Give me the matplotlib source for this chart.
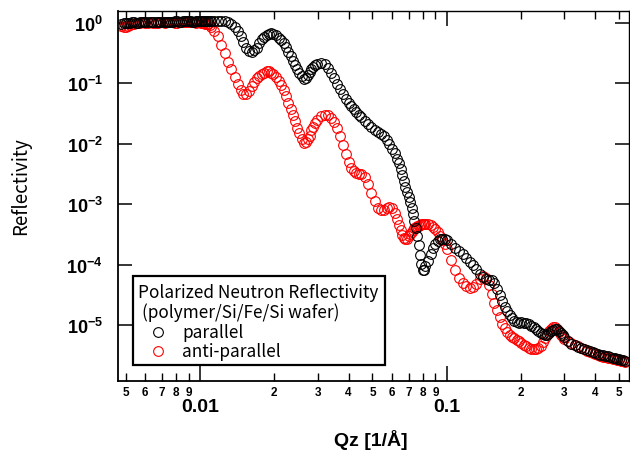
import numpy as np
import matplotlib
matplotlib.use("Agg")
import matplotlib.pyplot as plt
from matplotlib.ticker import FixedLocator, FuncFormatter, NullLocator
from matplotlib.patches import Rectangle

# Qz grid [1/A] shared by both spin states
qz = [
    0.0048, 0.0050, 0.0052, 0.0054, 0.0056, 0.0058, 0.0060, 0.0063, 0.0066, 0.0069,
    0.0072, 0.0075, 0.0078, 0.0081, 0.0084, 0.0087, 0.0090, 0.0093, 0.0096, 0.0099,
    0.0102, 0.0105, 0.0108, 0.0111, 0.0114,
    0.0118, 0.0122, 0.0126, 0.0130, 0.0134, 0.0138, 0.0142, 0.0146, 0.0150, 0.0154,
    0.0158, 0.0162, 0.0166, 0.0170, 0.0174, 0.0178, 0.0182, 0.0186, 0.0190, 0.0194, 0.0198,
    0.0203, 0.0208, 0.0213, 0.0218, 0.0223, 0.0228, 0.0233, 0.0238, 0.0243, 0.0248,
    0.0253, 0.0258, 0.0263, 0.0268, 0.0273, 0.0278, 0.0283, 0.0288, 0.0293, 0.0298,
    0.031, 0.032, 0.033, 0.034, 0.035, 0.036, 0.037, 0.038, 0.039, 0.040,
    0.041, 0.042, 0.043, 0.044, 0.045, 0.0465, 0.048, 0.0495, 0.051, 0.0525,
    0.054, 0.0555, 0.057, 0.0585, 0.060, 0.0615, 0.063,
    0.064, 0.065, 0.066, 0.067, 0.068, 0.069, 0.070, 0.071, 0.072, 0.073,
    0.074, 0.075, 0.076, 0.077, 0.078, 0.079, 0.080, 0.081, 0.082,
    0.084, 0.086, 0.088, 0.090, 0.092, 0.094, 0.096, 0.098, 0.100,
    0.104, 0.108, 0.112, 0.116, 0.120, 0.124, 0.128, 0.132, 0.136, 0.140,
    0.144, 0.148, 0.152, 0.156, 0.160, 0.164, 0.168, 0.172, 0.176, 0.180,
    0.184, 0.188, 0.192, 0.196, 0.200,
    0.205, 0.210, 0.215, 0.220, 0.225, 0.230, 0.235, 0.240, 0.245, 0.250,
    0.255, 0.260, 0.265, 0.270, 0.275, 0.280, 0.285, 0.290, 0.295, 0.300,
    0.31, 0.32, 0.33, 0.34, 0.35, 0.36, 0.37, 0.38, 0.39, 0.40,
    0.41, 0.42, 0.43, 0.44, 0.45, 0.46, 0.47, 0.48, 0.49, 0.50,
    0.51, 0.52, 0.53,
]

r_parallel = [
    0.98, 1.00, 1.01, 1.02, 1.00, 1.03, 1.02, 1.03, 1.04, 1.03,
    1.05, 1.04, 1.05, 1.06, 1.05, 1.06, 1.06, 1.05, 1.06, 1.07,
    1.06, 1.06, 1.07, 1.06, 1.06,
    1.07, 1.07, 1.06, 1.02, 0.95, 0.87, 0.75, 0.605, 0.476, 0.381,
    0.344, 0.331, 0.353, 0.392, 0.458, 0.537, 0.586, 0.638, 0.668, 0.678, 0.663,
    0.623, 0.575, 0.523, 0.458, 0.393, 0.336, 0.282, 0.237, 0.200, 0.170,
    0.150, 0.132, 0.120, 0.125, 0.140, 0.157, 0.173, 0.188, 0.203, 0.212,
    0.218, 0.210, 0.183, 0.151, 0.121, 0.0989, 0.0808, 0.0668, 0.0560, 0.0477,
    0.0415, 0.0370, 0.0330, 0.0300, 0.0278, 0.0241, 0.0212, 0.0190, 0.0171, 0.0159,
    0.0147, 0.0132, 0.0116, 0.00993, 0.00820, 0.00705, 0.00550,
    0.00481, 0.00383, 0.00304, 0.00242, 0.00193, 0.00159, 0.00132, 0.00109, 8.65e-4, 6.89e-4,
    5.27e-4, 4.04e-4, 2.98e-4, 2.11e-4, 1.44e-4, 1.02e-4, 8.14e-5, 8.14e-5, 9.48e-5,
    1.15e-4, 1.50e-4, 1.88e-4, 2.19e-4, 2.46e-4, 2.65e-4, 2.70e-4, 2.65e-4, 2.51e-4,
    2.19e-4, 1.88e-4, 1.68e-4, 1.47e-4, 1.29e-4, 1.12e-4, 9.85e-5, 8.29e-5, 6.99e-5, 6.23e-5,
    5.78e-5, 5.56e-5, 5.56e-5, 4.96e-5, 3.94e-5, 3.14e-5, 2.50e-5, 2.02e-5, 1.71e-5, 1.47e-5,
    1.28e-5, 1.16e-5, 1.10e-5, 1.08e-5, 1.10e-5,
    1.08e-5, 1.08e-5, 1.02e-5, 9.62e-6, 9.10e-6, 8.42e-6, 7.80e-6, 7.37e-6, 6.97e-6, 6.70e-6,
    6.83e-6, 7.23e-6, 7.80e-6, 8.26e-6, 8.59e-6, 8.42e-6, 7.96e-6, 7.23e-6, 6.70e-6, 6.21e-6,
    5.43e-6, 4.84e-6, 4.58e-6, 4.33e-6, 4.08e-6, 3.93e-6, 3.78e-6, 3.64e-6, 3.51e-6, 3.38e-6,
    3.25e-6, 3.19e-6, 3.13e-6, 3.07e-6, 3.01e-6, 2.95e-6, 2.84e-6, 2.79e-6, 2.74e-6, 2.68e-6,
    2.63e-6, 2.58e-6, 2.54e-6,
]

r_anti = [
    0.88, 0.85, 0.92, 0.98, 1.00, 1.02, 1.01, 1.02, 1.00, 1.02,
    1.01, 1.03, 1.02, 1.01, 1.03, 1.02, 1.02, 1.03, 1.01, 1.02,
    1.01, 0.98, 0.95, 0.86, 0.74,
    0.614, 0.439, 0.321, 0.230, 0.171, 0.130, 0.0989, 0.0783, 0.0670, 0.0665,
    0.0748, 0.0902, 0.107, 0.121, 0.132, 0.142, 0.151, 0.160, 0.159, 0.151, 0.142,
    0.128, 0.110, 0.0941, 0.0763, 0.0619, 0.0477, 0.0377, 0.0300, 0.0238, 0.0186,
    0.0151, 0.0120, 0.0103, 0.0105, 0.0120, 0.0137, 0.0166, 0.0190, 0.0217, 0.0243,
    0.0289, 0.0300, 0.0294, 0.0267, 0.0230, 0.0186, 0.0137, 0.00955, 0.00678, 0.00500,
    0.00397, 0.00350, 0.00329, 0.00321, 0.00310, 0.00287, 0.00218, 0.00153, 0.00111, 8.65e-4,
    7.87e-4, 8.02e-4, 8.55e-4, 8.92e-4, 8.65e-4, 7.15e-4, 5.58e-4,
    4.53e-4, 3.74e-4, 3.09e-4, 2.76e-4, 2.60e-4, 2.65e-4, 2.92e-4, 3.21e-4, 3.47e-4, 3.74e-4,
    3.96e-4, 4.11e-4, 4.28e-4, 4.39e-4, 4.53e-4, 4.61e-4, 4.70e-4, 4.70e-4, 4.70e-4,
    4.70e-4, 4.53e-4, 4.20e-4, 3.81e-4, 3.40e-4, 2.98e-4, 2.55e-4, 2.19e-4, 1.81e-4,
    1.19e-4, 8.14e-5, 6.00e-5, 4.86e-5, 4.34e-5, 4.10e-5, 4.18e-5, 4.69e-5, 5.67e-5, 6.35e-5,
    5.89e-5, 4.59e-5, 3.26e-5, 2.31e-5, 1.77e-5, 1.33e-5, 1.04e-5, 8.75e-6, 7.66e-6, 6.83e-6,
    6.32e-6, 5.97e-6, 5.64e-6, 5.33e-6, 5.04e-6,
    4.67e-6, 4.41e-6, 4.16e-6, 4.01e-6, 3.93e-6, 3.93e-6, 4.08e-6, 4.49e-6, 5.24e-6, 6.10e-6,
    6.97e-6, 7.80e-6, 8.59e-6, 9.10e-6, 9.10e-6, 8.59e-6, 7.66e-6, 6.83e-6, 6.21e-6, 5.86e-6,
    5.33e-6, 4.94e-6, 4.67e-6, 4.41e-6, 4.16e-6, 3.93e-6, 3.72e-6, 3.51e-6, 3.38e-6, 3.25e-6,
    3.13e-6, 3.01e-6, 2.95e-6, 2.90e-6, 2.84e-6, 2.79e-6, 2.74e-6, 2.68e-6, 2.63e-6, 2.58e-6,
    2.54e-6, 2.49e-6, 2.44e-6,
]

qz_plateau = [
    0.0049, 0.0051, 0.0053, 0.0055, 0.0057, 0.0059, 0.00615, 0.00645, 0.00675, 0.00705,
    0.00735, 0.00765, 0.00795, 0.00825, 0.00855, 0.00885, 0.00915, 0.00945, 0.00975, 0.01005,
    0.01035, 0.01065, 0.01095,
]
r_parallel_plateau = [
    0.99, 1.01, 1.02, 1.01, 1.02, 1.02, 1.03, 1.04, 1.04, 1.04,
    1.05, 1.05, 1.06, 1.05, 1.06, 1.06, 1.06, 1.05, 1.07, 1.06,
    1.07, 1.06, 1.07,
]
r_anti_plateau = [
    0.86, 0.88, 0.95, 0.99, 1.01, 1.02, 1.01, 1.01, 1.01, 1.02,
    1.02, 1.02, 1.01, 1.02, 1.02, 1.03, 1.02, 1.02, 1.02, 1.01,
    1.00, 0.97, 0.91,
]

x_major = [0.01, 0.1]
x_major_labels = ["0.01", "0.1"]

plt.rcParams['font.family'] = ['Liberation Sans', 'DejaVu Sans']
plt.rcParams['font.weight'] = 'bold'
plt.rcParams['mathtext.fontset'] = 'custom'
plt.rcParams['mathtext.rm'] = 'Liberation Sans:bold'
plt.rcParams['mathtext.bf'] = 'Liberation Sans:bold'
plt.rcParams['mathtext.it'] = 'Liberation Sans:bold'

W, H = 630, 452
fig = plt.figure(figsize=(W / 100, H / 100), dpi=100)
ax = fig.add_axes([118 / W, 1 - 382 / H, 511 / W, 370 / H])

marker_kw = dict(marker='o', ls='none', mfc='none', ms=7, mew=0.8)
ax.plot(qz, r_anti, mec='red', **marker_kw)
ax.plot(qz_plateau, r_anti_plateau, mec='red', **marker_kw)
ax.plot(qz, r_parallel, mec='black', **marker_kw)
ax.plot(qz_plateau, r_parallel_plateau, mec='black', **marker_kw)

ax.set_xscale('log')
ax.set_yscale('log')
ax.set_xlim(0.00465, 0.548)
ax.set_ylim(1.18e-6, 1.58)

# x ticks: decade labels below, mantissa digits on the minor ticks
ax.xaxis.set_major_locator(FixedLocator(x_major))
ax.xaxis.set_major_formatter(FuncFormatter(lambda v, p: x_major_labels[x_major.index(v)] if v in x_major else ""))
ax.xaxis.set_minor_locator(FixedLocator([m * 10.0 ** e for e in (-3, -2, -1) for m in range(2, 10)
                                         if 0.00465 <= m * 10.0 ** e <= 0.548]))
ax.xaxis.set_minor_formatter(FuncFormatter(lambda v, p: "%d" % round(v / 10 ** np.floor(np.log10(v) + 1e-9))))

ax.yaxis.set_major_locator(FixedLocator([1e-5, 1e-4, 1e-3, 1e-2, 1e-1, 1.0]))
ax.yaxis.set_major_formatter(FuncFormatter(lambda v, p: r"$\mathbf{10^{%d}}$" % round(np.log10(v))))
ax.yaxis.set_minor_locator(NullLocator())

ax.tick_params(axis='x', which='major', direction='in', length=11, width=1.1,
               top=True, bottom=True, labelsize=14, pad=12)
ax.tick_params(axis='x', which='minor', direction='in', length=6, width=1.0,
               top=True, bottom=True, labelsize=8.5, pad=3.5)
ax.tick_params(axis='y', which='major', direction='in', length=10, width=1.1,
               left=True, right=True, labelsize=13, pad=11)

for s in ax.spines.values():
    s.set_linewidth(1.0)
ax.spines['left'].set_linewidth(1.3)
ax.spines['bottom'].set_linewidth(1.3)

# legend box drawn by hand
leg_font = ['Noto Sans CJK JP', 'DejaVu Sans']
ax.add_patch(Rectangle((0.029, 0.043), 0.4935, 0.241, transform=ax.transAxes,
                       fc='white', ec='black', lw=1.6, zorder=5))
ax.text(0.039, 0.2405, "Polarized Neutron Reflectivity", transform=ax.transAxes,
        ha='left', va='center', fontsize=12.4, fontweight='normal', family=leg_font, zorder=6)
ax.text(0.047, 0.1865, "(polymer/Si/Fe/Si wafer)", transform=ax.transAxes,
        ha='left', va='center', fontsize=12.4, fontweight='normal', family=leg_font, zorder=6)
ax.plot([0.078], [0.132], transform=ax.transAxes, mec='black', zorder=6, clip_on=False, **marker_kw)
ax.plot([0.078], [0.081], transform=ax.transAxes, mec='red', zorder=6, clip_on=False, **marker_kw)
ax.text(0.125, 0.132, "parallel", transform=ax.transAxes,
        ha='left', va='center', fontsize=12.4, fontweight='normal', family=leg_font, zorder=6)
ax.text(0.125, 0.081, "anti-parallel", transform=ax.transAxes,
        ha='left', va='center', fontsize=12.4, fontweight='normal', family=leg_font, zorder=6)

fig.text(371 / W, 1 - 440 / H, "Qz [1/Å]", ha='center', va='center', fontsize=14, fontweight='bold')
fig.text(21 / W, 1 - 186 / H, "Reflectivity", rotation=90, ha='center', va='center',
         fontsize=13.5, fontweight='normal', family=leg_font)

fig.savefig("out.png", dpi=100)
